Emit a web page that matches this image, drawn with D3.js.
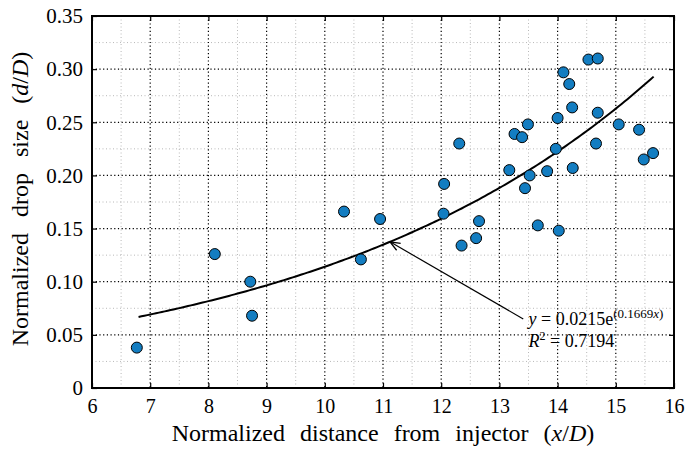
<!DOCTYPE html>
<html>
<head>
<meta charset="utf-8">
<script src="https://cdn.jsdelivr.net/npm/d3@7"></script>
<style>
body{margin:0;background:#fff;}
text{font-family:"Liberation Serif","Times New Roman",serif;fill:#000;}
</style>
</head>
<body>
<div id="chart"></div>
<script>
// measured drop sizes, x/D vs d/D
let xs=[6.77,8.11,8.72,8.75,10.33,10.62,10.95,12.04,12.05,12.31,12.35,12.60,12.65,13.17,13.26,13.39,13.44,13.49,13.52,13.66,13.82,13.97,14.00,14.02,14.10,14.20,14.25,14.26,14.53,14.66,14.69,14.69,15.05,15.40,15.48,15.64];
let ys=[0.038,0.126,0.100,0.068,0.166,0.121,0.159,0.164,0.192,0.230,0.134,0.141,0.157,0.205,0.239,0.236,0.188,0.248,0.200,0.153,0.204,0.225,0.254,0.148,0.297,0.286,0.264,0.207,0.309,0.230,0.310,0.259,0.248,0.243,0.215,0.221];
// exponential fit shown on the chart
let fitA=0.0215, fitB=0.1669;
let fitRange=[6.8,15.65];
let xTicks=[6,7,8,9,10,11,12,13,14,15,16];
let yTicks=[0,0.05,0.10,0.15,0.20,0.25,0.30,0.35];
let yTickLabels=["0","0.05","0.10","0.15","0.20","0.25","0.30","0.35"];

let margin={top:16,right:12,bottom:61,left:92},
    W=686,H=449,
    width=W-margin.left-margin.right,
    height=H-margin.top-margin.bottom;

let svg=d3.select("#chart").append("svg")
  .attr("width",W).attr("height",H);

let defs=svg.append("defs");
defs.append("marker").attr("id","arr")
  .attr("viewBox","0 0 12 10").attr("refX",11).attr("refY",5)
  .attr("markerWidth",12).attr("markerHeight",10).attr("markerUnits","userSpaceOnUse")
  .attr("orient","auto")
  .append("path").attr("d","M1,1 L11,5 L1,9").attr("fill","none")
  .attr("stroke","#000").attr("stroke-width",1.3);

let g=svg.append("g").attr("transform","translate("+margin.left+","+margin.top+")");

let x=d3.scaleLinear().domain([6,16]).range([0,width]);
let y=d3.scaleLinear().domain([0,0.35]).range([height,0]);

// minor grid (half steps)
let xMinor=d3.range(6.5,16,1), yMinor=d3.range(0.025,0.35,0.05);
g.selectAll(".xmin").data(xMinor).enter().append("line")
  .attr("x1",d=>x(d)).attr("x2",d=>x(d)).attr("y1",0).attr("y2",height)
  .attr("stroke","#b8b8b8").attr("stroke-width",1).attr("stroke-dasharray","1,2.5");
g.selectAll(".ymin").data(yMinor).enter().append("line")
  .attr("y1",d=>y(d)).attr("y2",d=>y(d)).attr("x1",0).attr("x2",width)
  .attr("stroke","#b8b8b8").attr("stroke-width",1).attr("stroke-dasharray","1,2.5");
// major grid
g.selectAll(".xmaj").data(xTicks.slice(1,-1)).enter().append("line")
  .attr("x1",d=>x(d)).attr("x2",d=>x(d)).attr("y1",0).attr("y2",height)
  .attr("stroke","#000").attr("stroke-width",1.2).attr("stroke-dasharray","1.2,2.5");
g.selectAll(".ymaj").data(yTicks.slice(1,-1)).enter().append("line")
  .attr("y1",d=>y(d)).attr("y2",d=>y(d)).attr("x1",0).attr("x2",width)
  .attr("stroke","#000").attr("stroke-width",1.2).attr("stroke-dasharray","1.2,2.5");

// axes
let xAxis=g.append("g").attr("transform","translate(0,"+height+")")
  .call(d3.axisBottom(x).tickValues(xTicks).tickSize(-5).tickPadding(11).tickFormat(d3.format("d")));
let yAxis=g.append("g")
  .call(d3.axisLeft(y).tickValues(yTicks).tickSize(-5).tickPadding(9).tickFormat((d,i)=>yTickLabels[i]));
g.append("g").call(d3.axisTop(x).tickValues(xTicks).tickSize(-5).tickFormat(""));
g.append("g").attr("transform","translate("+width+",0)")
  .call(d3.axisRight(y).tickValues(yTicks).tickSize(-5).tickFormat(""));
g.selectAll(".domain").remove();
g.selectAll(".tick line").attr("stroke","#000").attr("stroke-width",1.2);
g.selectAll(".tick text").attr("font-family","Liberation Serif, serif")
  .style("font-family","'Liberation Serif',serif");
xAxis.selectAll(".tick text").style("font-size","20px").attr("dy","0.71em");
yAxis.selectAll(".tick text").style("font-size","21px");
g.append("rect").attr("width",width).attr("height",height)
  .attr("fill","none").attr("stroke","#000").attr("stroke-width",2);

// fit curve
let fitX=d3.range(fitRange[0],fitRange[1]+0.001,0.05);
let line=d3.line().x(d=>x(d)).y(d=>y(fitA*Math.exp(fitB*d)));
g.append("path").datum(fitX).attr("d",line)
  .attr("fill","none").attr("stroke","#000").attr("stroke-width",2);

// points
g.selectAll("circle").data(xs).enter().append("circle")
  .attr("cx",d=>x(d)).attr("cy",(d,i)=>y(ys[i])).attr("r",5.5)
  .attr("fill","#137dc1").attr("stroke","#000").attr("stroke-width",1);

// annotation
let tipX=11.12, tailX=13.41, tailY=0.065;
g.append("line").attr("x1",x(tailX)).attr("y1",y(tailY))
  .attr("x2",x(tipX)).attr("y2",y(fitA*Math.exp(fitB*tipX)))
  .attr("stroke","#000").attr("stroke-width",1.2).attr("marker-end","url(#arr)");

let t1=g.append("text").attr("x",x(13.5)).attr("y",y(0.059)).style("font-size","18px");
t1.append("tspan").style("font-style","italic").text("y");
t1.append("tspan").text(" = 0.0215e");
t1.append("tspan").attr("dy",-7).style("font-size","13px").text("(0.1669");
t1.append("tspan").style("font-size","13px").style("font-style","italic").text("x");
t1.append("tspan").style("font-size","13px").text(")");
let t2=g.append("text").attr("x",x(13.5)).attr("y",y(0.039)).style("font-size","18px");
t2.append("tspan").style("font-style","italic").text("R");
t2.append("tspan").attr("dy",-7).style("font-size","12px").text("2");
t2.append("tspan").attr("dy",7).text(" = 0.7194");

// axis titles
let xl=svg.append("text").attr("x",margin.left+width/2).attr("y",441)
  .attr("text-anchor","middle").style("font-size","24px").style("word-spacing","9px");
xl.append("tspan").text("Normalized distance from injector (");
xl.append("tspan").style("font-style","italic").text("x");
xl.append("tspan").text("/");
xl.append("tspan").style("font-style","italic").text("D");
xl.append("tspan").text(")");
let yl=svg.append("text").attr("transform","translate(28,199) rotate(-90)")
  .attr("text-anchor","middle").style("font-size","24px").style("word-spacing","10px");
yl.append("tspan").text("Normalized drop size (");
yl.append("tspan").style("font-style","italic").text("d");
yl.append("tspan").text("/");
yl.append("tspan").style("font-style","italic").text("D");
yl.append("tspan").text(")");
</script>
</body>
</html>
